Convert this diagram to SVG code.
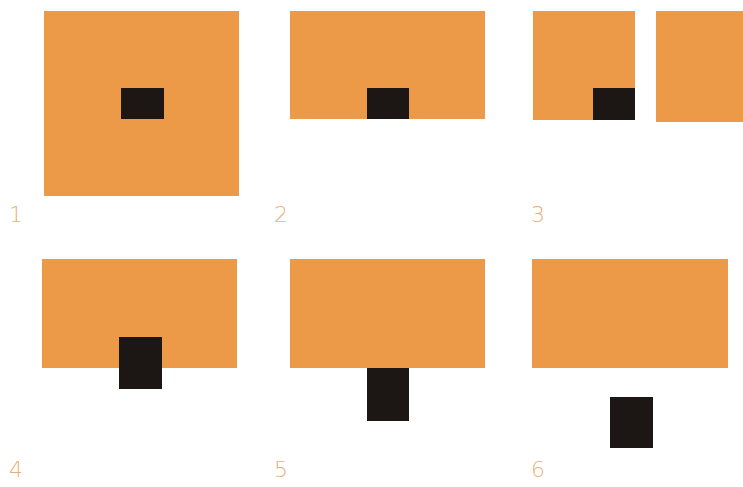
<svg xmlns="http://www.w3.org/2000/svg" width="743" height="487" viewBox="0 0 743 487">
<style>
.o{fill:#EC9A48}
.k{fill:#1C1715}
.l{fill:#E9B07A;font-family:"DejaVu Sans","Liberation Sans",sans-serif;font-size:22px;font-weight:300}
</style>
<rect width="743" height="487" fill="#ffffff"/>
<g id="panel1">
<rect class="o" x="44" y="11" width="195" height="185"/>
<rect class="k" x="121" y="88" width="43" height="31"/>
<text class="l" x="9" y="222">1</text>
</g>
<g id="panel2">
<rect class="o" x="290" y="11" width="195" height="108"/>
<rect class="k" x="367" y="88" width="42" height="31"/>
<text class="l" x="274" y="222">2</text>
</g>
<g id="panel3">
<rect class="o" x="533" y="11" width="102" height="109"/>
<rect class="k" x="593" y="88" width="42" height="32"/>
<rect class="o" x="656" y="11" width="90" height="111"/>
<text class="l" x="531" y="222">3</text>
</g>
<g id="panel4">
<rect class="o" x="42" y="259" width="195" height="109"/>
<rect class="k" x="119" y="337" width="43" height="52"/>
<text class="l" x="9" y="477">4</text>
</g>
<g id="panel5">
<rect class="o" x="290" y="259" width="195" height="109"/>
<rect class="k" x="367" y="368" width="42" height="53"/>
<text class="l" x="274" y="477">5</text>
</g>
<g id="panel6">
<rect class="o" x="532" y="259" width="196" height="109"/>
<rect class="k" x="610" y="397" width="43" height="51"/>
<text class="l" x="531" y="477">6</text>
</g>
<g id="connectors"/>
</svg>
